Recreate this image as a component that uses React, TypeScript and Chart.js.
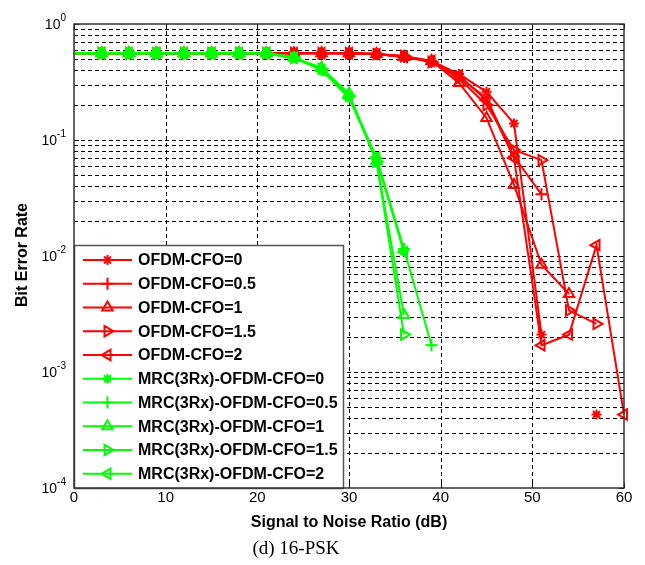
import React, { useEffect, useRef } from 'react';
import { Chart, registerables } from 'chart.js';
import { drawPoint } from 'chart.js/helpers';

Chart.register(...registerables);

// ---------- data ----------
const SNR_DB = [0, 3, 6, 9, 12, 15, 18, 21, 24, 27, 30, 33, 36, 39, 42, 45, 48, 51, 54, 57, 60];

const OFDM_CFO_0 = [0.56, 0.56, 0.56, 0.56, 0.56, 0.56, 0.56, 0.56, 0.56, 0.56, 0.56, 0.55, 0.53, 0.48, 0.37, 0.26, 0.139, 0.0021, null, 0.00043, null];
const OFDM_CFO_05 = [0.56, 0.56, 0.56, 0.56, 0.56, 0.56, 0.56, 0.56, 0.56, 0.56, 0.56, 0.55, 0.52, 0.47, 0.35, 0.23, 0.072, 0.034, null, null, null];
const OFDM_CFO_1 = [0.56, 0.56, 0.56, 0.56, 0.56, 0.56, 0.56, 0.56, 0.56, 0.56, 0.56, 0.55, 0.52, 0.48, 0.31, 0.155, 0.041, 0.0084, 0.0047, null, null];
const OFDM_CFO_15 = [0.56, 0.56, 0.56, 0.56, 0.56, 0.56, 0.56, 0.56, 0.56, 0.56, 0.56, 0.55, 0.53, 0.47, 0.34, 0.2, 0.082, 0.067, 0.0034, 0.0026, null];
const OFDM_CFO_2 = [0.56, 0.56, 0.56, 0.56, 0.56, 0.56, 0.56, 0.56, 0.56, 0.56, 0.56, 0.55, 0.52, 0.48, 0.36, 0.22, 0.07, 0.0017, 0.0021, 0.0124, 0.00043];

const MRC_CFO_0 = [0.56, 0.56, 0.56, 0.56, 0.56, 0.56, 0.56, 0.56, 0.51, 0.41, 0.24, 0.068, 0.011, null, null, null, null, null, null, null, null];
const MRC_CFO_05 = [0.56, 0.56, 0.56, 0.56, 0.56, 0.56, 0.56, 0.56, 0.52, 0.4, 0.24, 0.07, 0.0115, 0.0017, null, null, null, null, null, null, null];
const MRC_CFO_1 = [0.56, 0.56, 0.56, 0.56, 0.56, 0.56, 0.56, 0.56, 0.51, 0.42, 0.25, 0.066, 0.0031, null, null, null, null, null, null, null, null];
const MRC_CFO_15 = [0.56, 0.56, 0.56, 0.56, 0.56, 0.56, 0.56, 0.56, 0.51, 0.41, 0.24, 0.065, 0.0021, null, null, null, null, null, null, null, null];
const MRC_CFO_2 = [0.56, 0.56, 0.56, 0.56, 0.56, 0.56, 0.56, 0.56, 0.51, 0.4, 0.23, 0.07, 0.0108, null, null, null, null, null, null, null, null];

const SERIES_LABELS = [
  'OFDM-CFO=0',
  'OFDM-CFO=0.5',
  'OFDM-CFO=1',
  'OFDM-CFO=1.5',
  'OFDM-CFO=2',
  'MRC(3Rx)-OFDM-CFO=0',
  'MRC(3Rx)-OFDM-CFO=0.5',
  'MRC(3Rx)-OFDM-CFO=1',
  'MRC(3Rx)-OFDM-CFO=1.5',
  'MRC(3Rx)-OFDM-CFO=2',
];
const SERIES_VALUES = [
  OFDM_CFO_0, OFDM_CFO_05, OFDM_CFO_1, OFDM_CFO_15, OFDM_CFO_2,
  MRC_CFO_0, MRC_CFO_05, MRC_CFO_1, MRC_CFO_15, MRC_CFO_2,
];

const X_TICKS = [0, 10, 20, 30, 40, 50, 60];
const Y_DECADES = [-4, -3, -2, -1, 0];

const X_TITLE = 'Signal to Noise Ratio (dB)';
const Y_TITLE = 'Bit Error Rate';
const CAPTION = '(d) 16-PSK';

// ---------- styles ----------
const RED = '#ff0000';
const GREEN = '#00ff00';
const MARKERS = [
  { pointStyle: 'star', rotation: 0, radius: 5 },
  { pointStyle: 'cross', rotation: 0, radius: 6 },
  { pointStyle: 'triangle', rotation: 0, radius: 6 },
  { pointStyle: 'triangle', rotation: 90, radius: 6 },
  { pointStyle: 'triangle', rotation: 270, radius: 6 },
];

const SANS = '"Liberation Sans", Arial, sans-serif';
const SERIF = '"Liberation Serif", "Times New Roman", serif';

const decor = {
  id: 'matlabDecor',
  beforeDatasetsDraw(chart: any) {
    const { ctx, chartArea: a, scales } = chart;
    const x = scales.x;
    const y = scales.y;
    ctx.save();
    ctx.fillStyle = '#fff';
    ctx.fillRect(a.left, a.top, a.right - a.left, a.bottom - a.top);
    ctx.strokeStyle = '#000';
    ctx.lineWidth = 1;
    ctx.setLineDash([4, 3]);
    for (let e = -4; e < 0; e++) {
      for (let m = 1; m <= 9; m++) {
        if (e === -4 && m === 1) continue;
        const py = Math.round(y.getPixelForValue(m * Math.pow(10, e))) + 0.5;
        ctx.beginPath();
        ctx.moveTo(a.left, py);
        ctx.lineTo(a.right, py);
        ctx.stroke();
      }
    }
    for (const t of X_TICKS) {
      if (t === X_TICKS[0] || t === X_TICKS[X_TICKS.length - 1]) continue;
      const px = Math.round(x.getPixelForValue(t)) + 0.5;
      ctx.beginPath();
      ctx.moveTo(px, a.top);
      ctx.lineTo(px, a.bottom);
      ctx.stroke();
    }
    ctx.restore();
  },
  afterDatasetsDraw(chart: any) {
    const { ctx, chartArea: a, scales } = chart;
    const x = scales.x;
    const y = scales.y;
    ctx.save();
    // tick marks
    ctx.strokeStyle = '#000';
    ctx.lineWidth = 1;
    ctx.setLineDash([]);
    for (const t of X_TICKS) {
      const px = Math.round(x.getPixelForValue(t)) + 0.5;
      ctx.beginPath();
      ctx.moveTo(px, a.bottom);
      ctx.lineTo(px, a.bottom - 5);
      ctx.moveTo(px, a.top);
      ctx.lineTo(px, a.top + 5);
      ctx.stroke();
    }
    for (let e = -4; e <= 0; e++) {
      for (let m = 1; m <= 9; m++) {
        if (e === 0 && m > 1) continue;
        const py = Math.round(y.getPixelForValue(m * Math.pow(10, e))) + 0.5;
        const len = m === 1 ? 5 : 3;
        ctx.beginPath();
        ctx.moveTo(a.left, py);
        ctx.lineTo(a.left + len, py);
        ctx.moveTo(a.right, py);
        ctx.lineTo(a.right - len, py);
        ctx.stroke();
      }
    }

    // legend box
    const lx0 = a.left;
    const ly0 = 245;
    const lx1 = 343;
    const ly1 = a.bottom;
    ctx.fillStyle = '#fff';
    ctx.fillRect(lx0, ly0, lx1 - lx0, ly1 - ly0);
    ctx.strokeStyle = '#555';
    ctx.lineWidth = 1.5;
    ctx.strokeRect(lx0 + 0.5, ly0 + 0.5, lx1 - lx0, ly1 - ly0);
    ctx.font = `bold 16px ${SANS}`;
    ctx.textBaseline = 'middle';
    ctx.textAlign = 'left';
    chart.data.datasets.forEach((ds: any, i: number) => {
      const ry = 260 + i * 23.75;
      ctx.strokeStyle = ds.borderColor;
      ctx.fillStyle = ds.borderColor;
      ctx.lineWidth = 2;
      ctx.beginPath();
      ctx.moveTo(83, ry);
      ctx.lineTo(132, ry);
      ctx.stroke();
      const mk = MARKERS[i % 5];
      ctx.fillStyle = 'rgba(0,0,0,0)';
      drawPoint(ctx, { pointStyle: mk.pointStyle, rotation: mk.rotation, radius: mk.radius, borderWidth: 2 } as any, 107.5, ry);
      ctx.fillStyle = '#000';
      ctx.fillText(ds.label, 138, ry + 1);
    });

    // axes box
    ctx.strokeStyle = '#333';
    ctx.lineWidth = 1.5;
    ctx.strokeRect(a.left, a.top, a.right - a.left, a.bottom - a.top);

    // x tick labels
    ctx.fillStyle = '#000';
    ctx.font = `15px ${SANS}`;
    ctx.textAlign = 'center';
    ctx.textBaseline = 'middle';
    for (const t of X_TICKS) {
      ctx.fillText(String(t), x.getPixelForValue(t), a.bottom + 10);
    }
    // y tick labels 10^e
    for (const e of Y_DECADES) {
      const py = y.getPixelForValue(Math.pow(10, e));
      const exp = String(e);
      ctx.font = `10px ${SANS}`;
      const ew = ctx.measureText(exp).width;
      ctx.textAlign = 'left';
      ctx.fillText(exp, 66 - ew, py - 6);
      ctx.font = `14px ${SANS}`;
      ctx.textAlign = 'right';
      ctx.fillText('10', 66 - ew, py + 1);
    }
    // axis titles
    ctx.font = `bold 16px ${SANS}`;
    ctx.textAlign = 'center';
    ctx.fillText(X_TITLE, (a.left + a.right) / 2, 523);
    ctx.save();
    ctx.translate(23, 255);
    ctx.rotate(-Math.PI / 2);
    ctx.fillText(Y_TITLE, 0, 0);
    ctx.restore();
    // caption
    ctx.font = `19px ${SERIF}`;
    ctx.fillText(CAPTION, 296, 549);
    ctx.restore();
  },
};

export default function App() {
  const ref = useRef<HTMLCanvasElement | null>(null);
  useEffect(() => {
    if (!ref.current) return;
    const datasets = SERIES_VALUES.map((vals, i) => {
      const color = i < 5 ? RED : GREEN;
      const mk = MARKERS[i % 5];
      return {
        label: SERIES_LABELS[i],
        data: SNR_DB.map((s, j) => ({ x: s, y: vals[j] })),
        borderColor: color,
        backgroundColor: color,
        pointBorderColor: color,
        pointBackgroundColor: 'rgba(0,0,0,0)',
        borderWidth: 2,
        pointBorderWidth: 2,
        pointStyle: mk.pointStyle,
        pointRotation: mk.rotation,
        pointRadius: (c: any) => (c.dataIndex === 0 ? 0 : mk.radius),
        pointHoverRadius: mk.radius,
        spanGaps: false,
        tension: 0,
        clip: false,
        order: i < 5 ? 1 : 0,
      };
    });
    const chart = new Chart(ref.current, {
      type: 'line',
      data: { datasets } as any,
      options: {
        responsive: false,
        devicePixelRatio: 1,
        animation: false,
        layout: { padding: { left: 74, top: 24, right: 21, bottom: 77 } },
        plugins: { legend: { display: false }, tooltip: { enabled: false } },
        scales: {
          x: { type: 'linear', min: 0, max: 60, display: false },
          y: { type: 'logarithmic', min: 1e-4, max: 1, display: false },
        },
      } as any,
      plugins: [decor],
    });
    return () => chart.destroy();
  }, []);
  return (
    <div style={{ position: 'absolute', left: 0, top: 0, width: 645, height: 565, background: '#fff' }}>
      <canvas ref={ref} width={645} height={565} style={{ display: 'block', width: 645, height: 565 }} />
    </div>
  );
}
